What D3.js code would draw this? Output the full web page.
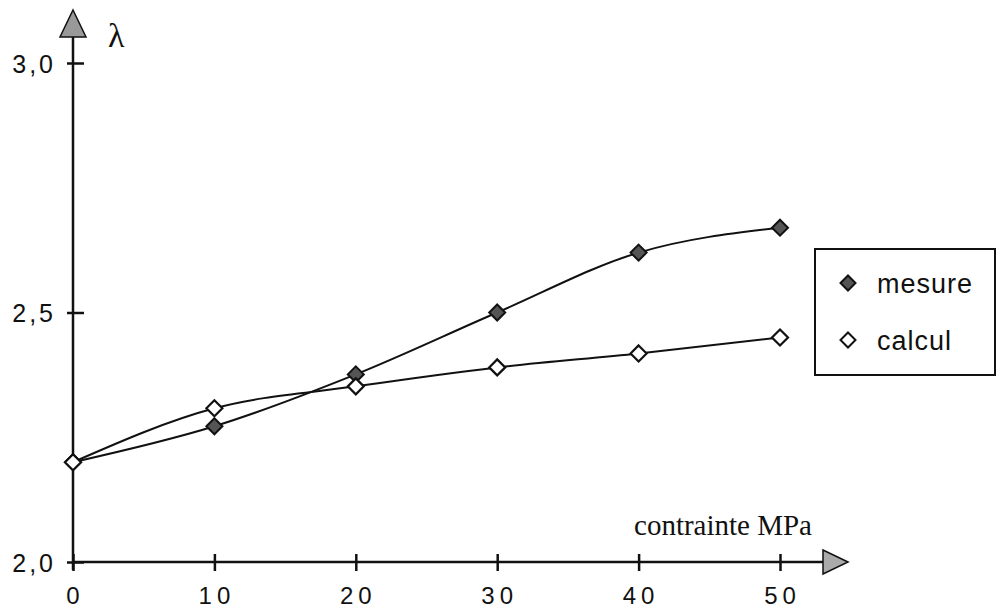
<!DOCTYPE html>
<html><head><meta charset="utf-8">
<script src="https://cdn.jsdelivr.net/npm/d3@7"></script>
<style>body{margin:0;background:#fff}svg{display:block}</style>
</head><body>
<svg id="c" width="997" height="610"></svg>
<script>
const contrainte = [0, 10, 20, 30, 40, 50];
const mesure = [2.2, 2.272, 2.376, 2.50, 2.62, 2.67];
const calcul = [2.2, 2.308, 2.352, 2.39, 2.418, 2.45];
const xTicks = [0, 10, 20, 30, 40, 50];
const yTicks = [2.0, 2.5, 3.0];
const yTickLabels = ["2,0", "2,5", "3,0"];
const seriesNames = ["mesure", "calcul"];

const svg = d3.select("#c");
const x = d3.scaleLinear().domain([0, 50]).range([73, 780]);
const y = d3.scaleLinear().domain([2.0, 3.0]).range([562, 63]);

// axes lines
svg.append("line").attr("x1", x(0)).attr("x2", 826).attr("y1", y(2)).attr("y2", y(2))
  .attr("stroke", "#111").attr("stroke-width", 2.5);
svg.append("line").attr("x1", x(0)).attr("x2", x(0)).attr("y1", y(2) + 8).attr("y2", 34)
  .attr("stroke", "#111").attr("stroke-width", 2.5);

// arrowheads
svg.append("path").attr("d", `M${x(0)},10 L${x(0)+13},37 L${x(0)-13},37 Z`)
  .attr("fill", "#999").attr("stroke", "#111").attr("stroke-width", 1.5);
svg.append("path").attr("d", `M848,${y(2)} L823,${y(2)-12} L823,${y(2)+12} Z`)
  .attr("fill", "#aaa").attr("stroke", "#111").attr("stroke-width", 1.5);

// ticks
const xAxis = d3.axisBottom(x).tickValues(xTicks).tickSize(0).tickFormat(d3.format("d"));
const gx = svg.append("g").attr("transform", `translate(0,${y(2)})`).call(xAxis);
gx.select(".domain").remove();
gx.selectAll(".tick text").attr("y", 42).attr("dy", 0)
  .attr("font-family", "Liberation Sans, Arial, sans-serif").attr("font-size", 24)
  .attr("fill", "#111").attr("letter-spacing", 5).attr("dx", 2);
gx.selectAll(".tick").append("line").attr("y1", -8).attr("y2", 9)
  .attr("stroke", "#111").attr("stroke-width", 2.5);

const yAxis = d3.axisLeft(y).tickValues(yTicks).tickSize(0)
  .tickFormat((d, i) => yTickLabels[i]);
const gy = svg.append("g").attr("transform", `translate(${x(0)},0)`).call(yAxis);
gy.select(".domain").remove();
gy.selectAll(".tick text").attr("x", -17).attr("dy", "0.36em")
  .attr("font-family", "Liberation Sans, Arial, sans-serif").attr("font-size", 25)
  .attr("fill", "#111").attr("letter-spacing", 3);
gy.selectAll(".tick").append("line").attr("x1", -6).attr("x2", 11)
  .attr("stroke", "#111").attr("stroke-width", 2.5);

// axis titles
svg.append("text").attr("x", 108).attr("y", 47).text("λ")
  .attr("font-family", "Liberation Serif, Times New Roman, serif").attr("font-size", 34).attr("fill", "#111");
svg.append("text").attr("x", 812).attr("y", 535).attr("text-anchor", "end").text("contrainte MPa")
  .attr("font-family", "Liberation Serif, Times New Roman, serif").attr("font-size", 29).attr("fill", "#111");

// curves
const line = d3.line().x((d, i) => x(contrainte[i])).y(d => y(d)).curve(d3.curveMonotoneX);
svg.append("path").attr("d", line(mesure)).attr("fill", "none").attr("stroke", "#111").attr("stroke-width", 2);
svg.append("path").attr("d", line(calcul)).attr("fill", "none").attr("stroke", "#111").attr("stroke-width", 2);

const diamond = (cx, cy, r) => `M${cx},${cy-r} L${cx+r},${cy} L${cx},${cy+r} L${cx-r},${cy} Z`;
svg.append("g").selectAll("path").data(mesure).join("path")
  .attr("d", (d, i) => diamond(x(contrainte[i]), y(d), 8))
  .attr("fill", "#555").attr("stroke", "#111").attr("stroke-width", 2);
svg.append("g").selectAll("path").data(calcul).join("path")
  .attr("d", (d, i) => diamond(x(contrainte[i]), y(d), 8))
  .attr("fill", "#fff").attr("stroke", "#111").attr("stroke-width", 2.2);

// legend
const lg = svg.append("g");
lg.append("rect").attr("x", 815).attr("y", 249).attr("width", 180).attr("height", 126)
  .attr("fill", "#fff").attr("stroke", "#111").attr("stroke-width", 2);
const legendFills = ["#555", "#fff"];
const legendY = [283, 340];
seriesNames.forEach((n, i) => {
  lg.append("path").attr("d", diamond(848, legendY[i], 7.5))
    .attr("fill", legendFills[i]).attr("stroke", "#111").attr("stroke-width", 2);
  lg.append("text").attr("x", 877).attr("y", legendY[i] + 10).text(n)
    .attr("font-family", "Liberation Sans, Arial, sans-serif").attr("font-size", 27)
    .attr("letter-spacing", 1).attr("fill", "#111");
});
</script>
</body></html>
